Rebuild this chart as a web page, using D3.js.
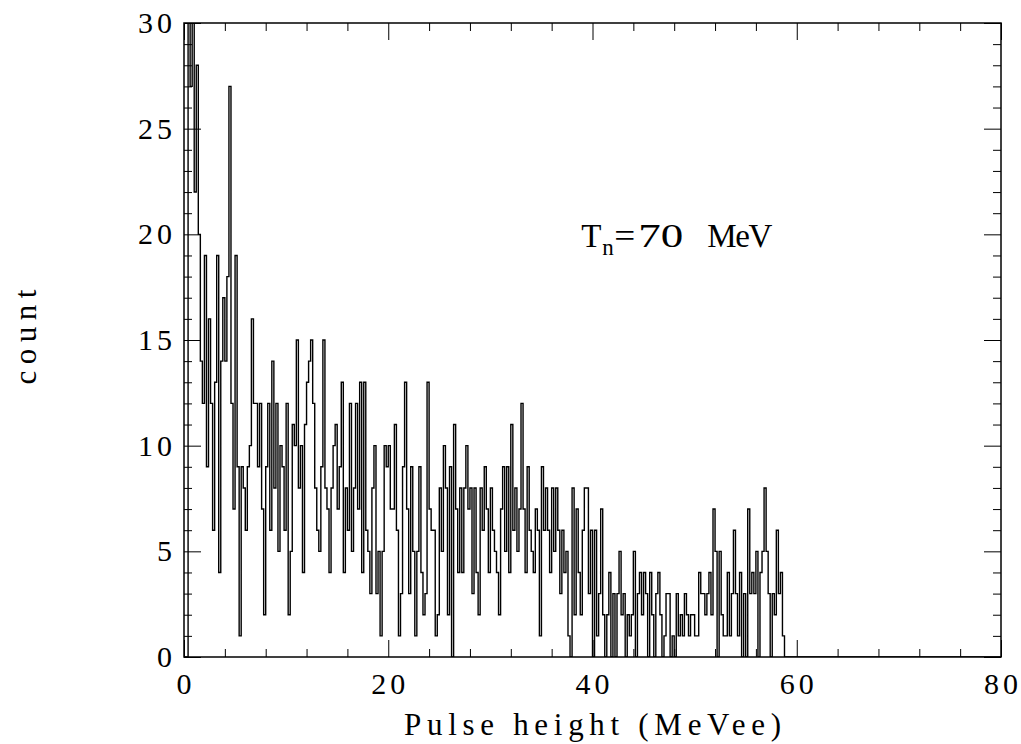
<!DOCTYPE html>
<html lang="en">
  <head>
    <meta charset="UTF-8" />
    <title>Pulse height spectrum</title>
    <script src="https://d3js.org/d3.v7.min.js"></script>
    <style>
      body {
        margin: 0;
        background: #ffffff;
      }
      text {
        font-family: "Liberation Serif", "DejaVu Serif", serif;
        fill: #000;
      }
      .tick line {
        stroke: #000;
        stroke-width: 1;
      }
    </style>
  </head>
  <body>
    <svg id="chart" width="1021" height="744"></svg>
    <script>
      // histogram: counts per bin, bins of 0.2 MeVee starting at 0
      const binWidth = 0.2;
      const counts = [
        0, 0, 31, 27, 31, 22, 28, 20, 14, 12,
        19, 9, 16, 12, 6, 13, 19, 4, 14, 17,
        14, 18, 27, 12, 7, 19, 9, 1, 9, 8,
        6, 9, 10, 16, 12, 12, 9, 12, 7, 2,
        9, 12, 6, 14, 8, 12, 5, 10, 9, 6,
        12, 2, 5, 11, 10, 15, 8, 10, 4, 11,
        13, 14, 15, 12, 8, 6, 5, 9, 15, 8,
        7, 4, 8, 10, 11, 7, 9, 13, 4, 8,
        6, 12, 5, 8, 12, 7, 13, 4, 13, 6,
        5, 3, 8, 10, 3, 5, 1, 5, 10, 9,
        10, 7, 7, 11, 6, 1, 3, 9, 13, 7,
        3, 9, 5, 1, 5, 9, 4, 2, 3, 13,
        7, 6, 6, 1, 2, 8, 5, 10, 8, 2,
        9, 0, 11, 7, 4, 8, 4, 8, 10, 7,
        8, 3, 8, 4, 2, 8, 6, 9, 7, 4,
        8, 6, 5, 4, 2, 7, 9, 5, 9, 4,
        11, 6, 8, 5, 7, 12, 7, 4, 9, 6,
        5, 4, 7, 6, 1, 9, 6, 8, 6, 4,
        8, 5, 8, 6, 3, 6, 4, 5, 1, 0,
        8, 2, 7, 4, 2, 6, 8, 8, 3, 6,
        0, 6, 1, 3, 7, 2, 0, 2, 4, 0,
        3, 0, 3, 5, 2, 3, 0, 2, 1, 2,
        5, 0, 3, 4, 2, 4, 3, 0, 4, 2,
        0, 3, 4, 2, 0, 1, 3, 3, 0, 1,
        0, 3, 1, 2, 1, 3, 2, 1, 2, 2,
        1, 1, 4, 3, 3, 2, 3, 4, 2, 7,
        5, 0, 5, 2, 1, 1, 4, 1, 3, 6,
        3, 1, 4, 0, 3, 0, 7, 3, 4, 3,
        5, 0, 4, 5, 8, 5, 3, 0, 3, 2,
        6, 3, 4, 1, 0
      ];

      const xMajor = [0, 20, 40, 60, 80];
      const xMinor = [4, 8, 12, 16, 24, 28, 32, 36, 44, 48, 52, 56, 64, 68, 72, 76];
      const yMajor = [0, 5, 10, 15, 20, 25, 30];
      const yMinor = [1, 2, 3, 4, 6, 7, 8, 9, 11, 12, 13, 14, 16, 17, 18, 19, 21, 22, 23, 24, 26, 27, 28, 29];

      const margin = { top: 23, right: 20, bottom: 87, left: 184 },
        width = 1021 - margin.left - margin.right,
        height = 744 - margin.top - margin.bottom;

      const svg = d3.select("#chart");
      const g = svg
        .append("g")
        .attr("transform", `translate(${margin.left},${margin.top})`);

      const x = d3.scaleLinear().domain([0, 80]).range([0, width]);
      const y = d3.scaleLinear().domain([0, 30]).range([height, 0]);

      g.append("clipPath")
        .attr("id", "plot-clip")
        .append("rect")
        .attr("width", width)
        .attr("height", height);

      // step points: left edge of every bin, then close at the end
      const pts = counts.map((c, i) => [i * binWidth, c]);
      pts.push([counts.length * binWidth, 0]);
      pts.push([80, 0]);

      const line = d3
        .line()
        .x((d) => x(d[0]))
        .y((d) => y(d[1]))
        .curve(d3.curveStepAfter);

      g.append("path")
        .datum(pts)
        .attr("clip-path", "url(#plot-clip)")
        .attr("fill", "none")
        .attr("stroke", "#000")
        .attr("stroke-width", 1.4)
        .attr("d", line);

      // ticks pointing into the frame on all four sides
      const major = 17,
        minor = 8;
      function ticks(axis, values, size, transform) {
        const a = g
          .append("g")
          .attr("transform", transform)
          .call(axis.tickValues(values).tickSize(size).tickFormat(""));
        a.select(".domain").remove();
        return a;
      }
      ticks(d3.axisBottom(x), xMajor, -major, `translate(0,${height})`);
      ticks(d3.axisBottom(x), xMinor, -minor, `translate(0,${height})`);
      ticks(d3.axisTop(x), xMajor, -major, "translate(0,0)");
      ticks(d3.axisTop(x), xMinor, -minor, "translate(0,0)");
      ticks(d3.axisLeft(y), yMajor, -major, "translate(0,0)");
      ticks(d3.axisLeft(y), yMinor, -minor, "translate(0,0)");
      ticks(d3.axisRight(y), yMajor, -major, `translate(${width},0)`);
      ticks(d3.axisRight(y), yMinor, -minor, `translate(${width},0)`);

      g.append("rect")
        .attr("width", width)
        .attr("height", height)
        .attr("fill", "none")
        .attr("stroke", "#000")
        .attr("stroke-width", 1.5);

      // tick labels (wide plotter-style digits)
      function fitDigits(sel) {
        sel.each(function (d) {
          const s = String(d);
          if (s.length > 1) {
            d3.select(this)
              .attr("textLength", 17 * s.length)
              .attr("lengthAdjust", "spacing");
          }
        });
      }

      g.selectAll(".xlab")
        .data(xMajor)
        .enter()
        .append("text")
        .attr("class", "xlab")
        .attr("x", (d) => x(d))
        .attr("y", height + 37)
        .attr("text-anchor", "middle")
        .attr("font-size", 30)
        .text((d) => d)
        .call(fitDigits);

      g.selectAll(".ylab")
        .data(yMajor)
        .enter()
        .append("text")
        .attr("class", "ylab")
        .attr("x", -12)
        .attr("y", (d) => y(d) + 10)
        .attr("text-anchor", "end")
        .attr("font-size", 30)
        .text((d) => d)
        .call(fitDigits);

      // axis titles
      g.append("text")
        .attr("x", width / 2)
        .attr("y", height + 78)
        .attr("text-anchor", "middle")
        .attr("font-size", 31)
        .attr("textLength", 377)
        .attr("lengthAdjust", "spacing")
        .text("Pulse height (MeVee)");

      g.append("text")
        .attr("transform", `translate(${-margin.left + 36},${height / 2 - 3})rotate(-90)`)
        .attr("text-anchor", "middle")
        .attr("font-size", 31)
        .attr("textLength", 95)
        .attr("lengthAdjust", "spacing")
        .text("count");

      // annotation T_n = 70 MeV
      const nx = x(38.9),
        ny = y(20) + 13;
      const note = g.append("g").attr("transform", `translate(${nx},${ny})`);
      note.append("text").attr("font-size", 33).text("T");
      note.append("text").attr("x", 21).attr("y", 8).attr("font-size", 23).text("n");
      note
        .append("text")
        .attr("x", 33)
        .attr("font-size", 33)
        .attr("textLength", 21)
        .attr("lengthAdjust", "spacingAndGlyphs")
        .text("=");
      note
        .append("text")
        .attr("x", 57)
        .attr("font-size", 34)
        .attr("textLength", 45)
        .attr("lengthAdjust", "spacingAndGlyphs")
        .text("70");
      note
        .append("text")
        .attr("x", 126)
        .attr("font-size", 33)
        .attr("textLength", 65)
        .attr("lengthAdjust", "spacing")
        .text("MeV");
    </script>
  </body>
</html>
